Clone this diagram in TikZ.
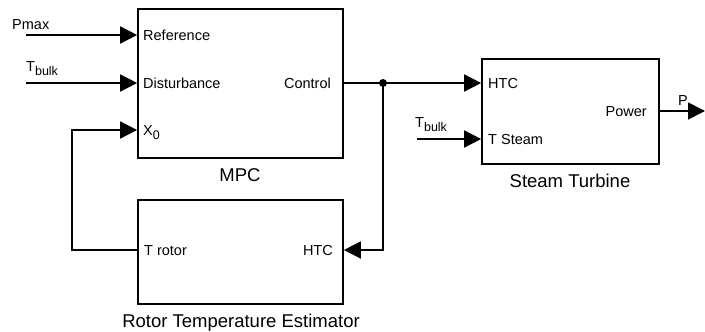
\documentclass[tikz,border=0pt]{standalone}
\usepackage{fontspec}
\setmainfont{Liberation Sans}
\usetikzlibrary{arrows.meta}

\newcommand{\lowtxt}[1]{\raisebox{-4pt}{\fontsize{12.5}{14}\selectfont #1}}

\begin{document}
\begin{tikzpicture}[
			x=1pt, y=-1pt,
			font=\fontsize{14.5}{17}\selectfont,
			block/.style={
					draw,
					line width=1.7pt,
					inner sep=0pt
				},
			port/.style={
					inner sep=0pt
				},
			title/.style={
					inner sep=0pt,
					anchor=base,
					font=\fontsize{18.5}{22}\selectfont
				},
			sig/.style={
			-{Triangle[length=17pt,width=17pt]},
			line width=1.7pt
			},
			wire/.style={
			line width=1.7pt
			}
			]
			\useasboundingbox (0,0) rectangle (705,332);

			% ================= Blocks =================
			\node[block, minimum width=205pt, minimum height=149pt] (mpc) at (240.5,83.5) {};
			\node[block, minimum width=205pt, minimum height=104pt] (rte) at (240.5,252) {};
			\node[block, minimum width=177pt, minimum height=105pt] (turb) at (570.5,111.5) {};

			\node[title] (mpcname) at (240,181) {MPC};
			\node[title] (rtename) at (241,327) {Rotor Temperature Estimator};
			\node[title] (turbname) at (570,187) {Steam Turbine};

			% ================= Ports =================
			\node[port, anchor=base west] (ref) at (143,40.3) {Reference};
			\node[port, anchor=base west] (dist) at (143,88.3) {Disturbance};
			\node[port, anchor=base west] (xnull) at (143,135.3) {X\lowtxt{0}};
			\node[port, anchor=base east] (ctrl) at (331,88.3) {Control};

			\node[port, anchor=base west] (trot) at (144,255.3) {T rotor};
			\node[port, anchor=base east] (rtehtc) at (333,255.3) {HTC};

			\node[port, anchor=base west] (turbhtc) at (488,88.3) {HTC};
			\node[port, anchor=base west] (tsteam) at (488,144.3) {T Steam};
			\node[port, anchor=base east] (power) at (647,116.3) {Power};

			% ================= Signals =================
			\node[port, anchor=base west] (pmax) at (12,29.5) {Pmax};
			\node[port, anchor=base west] (tbulka) at (26,71.5) {T\lowtxt{bulk}};
			\node[port, anchor=base west] (tbulkb) at (415,127) {T\lowtxt{bulk}};
			\node[port, anchor=base west] (pout) at (678,105.5) {P};

			\coordinate (pmaxin) at (26,35);
			\coordinate (tbin) at (26,83);
			\coordinate (split) at (383,83);
			\coordinate (fb) at (72,190);
			\coordinate (tsin) at (417,139);
			\coordinate (pend) at (705,111);

			\draw[sig] (pmaxin) -- (mpc.west |- pmaxin);
			\draw[sig] (tbin) -- (mpc.west |- tbin);

			% control to turbine, branch down to the estimator
			\draw[wire] (mpc.east |- split) -- (split);
			\draw[sig] (split) -- (turb.west |- split);
			\draw[sig] (split) |- (rte.east |- 0,250);
			\fill (split) circle (4);

			% estimator back to MPC initial state
			\draw[sig] (rte.west |- 0,250) -| (fb) |- (mpc.west |- 0,130);

			\draw[sig] (tsin) -- (turb.west |- tsin);
			\draw[sig] (turb.east |- pend) -- (pend);

		\end{tikzpicture}
\end{document}
